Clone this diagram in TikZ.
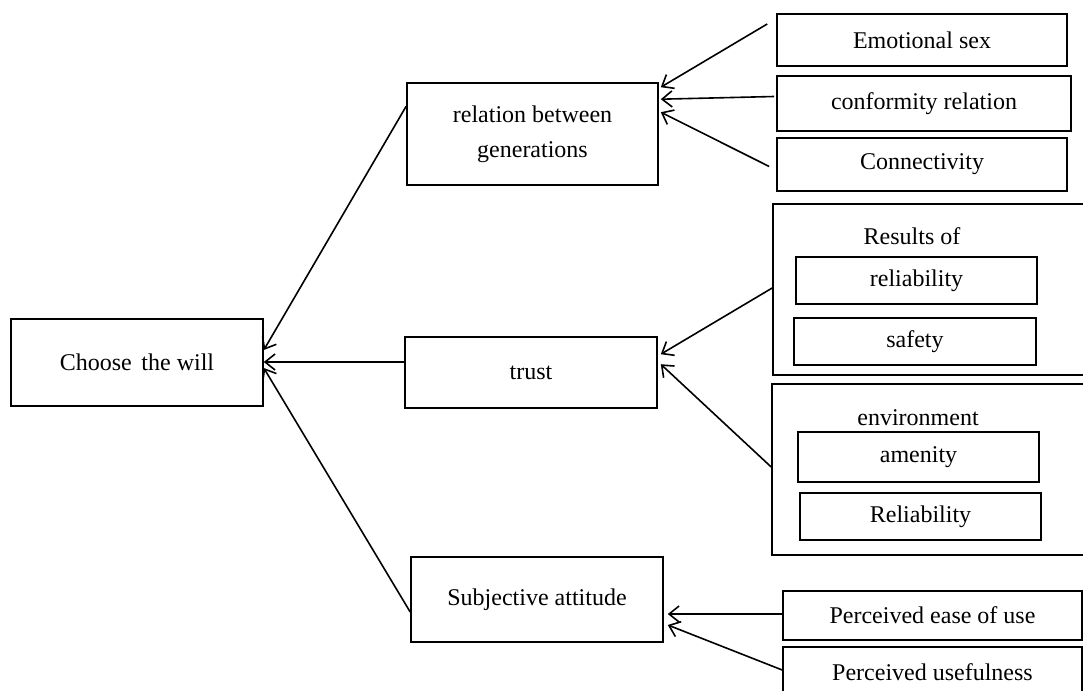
\documentclass[tikz,border=0pt]{standalone}
\usepackage{fontspec}
\setmainfont{Liberation Serif}
\usetikzlibrary{arrows.meta,calc}
\begin{document}
\begin{tikzpicture}[x=0.5pt,y=-0.5pt,
  every node/.style={font=\fontsize{12}{17.5}\selectfont},
  box/.style={draw=black,line width=0.8pt,rectangle,inner sep=0pt,align=center},
  sz/.style 2 args={minimum width=#1*0.5pt,minimum height=#2*0.5pt},
  lbl/.style={inner sep=0pt},
  conn/.style={draw=black,line width=0.8pt,-{Straight Barb[length=5pt,width=8pt,line width=0.8pt]}}]
\useasboundingbox (0,0) rectangle (1083,691);
\clip (0,0) rectangle (1083,691);
% main boxes
\node[box,sz={252}{87}] (choose) at (137,362.5) {Choose\hspace{0.4em}the will};
\node[box,sz={251}{102}] (rel) at (532.5,134) {relation between\\generations};
\node[box,sz={252}{71}] (trust) at (531,372.5) {trust};
\node[box,sz={252}{85}] (subj) at (537,599.5) {Subjective attitude};
% relation factors
\node[box,sz={290}{52}] (emo) at (922,40) {Emotional sex};
\node[box,sz={294}{55}] (conf) at (924,103.5) {conformity relation};
\node[box,sz={290}{53}] (conn) at (922,164.5) {Connectivity};
% trust factors
\node[box,sz={322}{171}] (res) at (934,289.5) {};
\node[lbl] (restxt) at (912,236) {Results of};
\node[box,sz={241}{47}] (rel1) at (916.5,280.5) {reliability};
\node[box,sz={242}{47}] (safe) at (915,341.5) {safety};
\node[box,sz={323}{171}] (env) at (933.5,469.5) {};
\node[lbl] (envtxt) at (918,418) {environment};
\node[box,sz={241}{50}] (amen) at (918.5,457) {amenity};
\node[box,sz={241}{47}] (rel2) at (920.5,516.5) {Reliability};
% attitude factors
\node[box,sz={299}{49}] (ease) at (932.5,615.5) {Perceived ease of use};
\node[box,sz={299}{50}] (useful) at (932.5,672) {Perceived usefulness};
% connectors
\draw[conn] ($(emo.west)+(-9,-16)$) -- ($(rel.north east)+(2,5)$);
\draw[conn] ($(conf.west)+(-2,-7)$) -- ($(rel.north east)+(2,17)$);
\draw[conn] ($(conn.west)+(-7,2)$) -- ($(rel.north east)+(2,30)$);
\draw[conn] ($(res.west)+(0,-1.5)$) -- ($(trust.north east)+(3,18)$);
\draw[conn] ($(env.west)+(0,-2.5)$) -- ($(trust.north east)+(3,28)$);
\draw[conn] ($(ease.west)+(0,-1.5)$) -- ($(subj.east)+(4,14.5)$);
\draw[conn] ($(useful.west)+(0,-2)$) -- ($(subj.east)+(4,25.5)$);
\draw[conn] ($(rel.north west)+(0,24)$) -- ($(choose.east)+(0,-12.5)$);
\draw[conn] ($(trust.west)+(0,-10.5)$) -- ($(choose.east)+(0,-0.5)$);
\draw[conn] ($(subj.west)+(0,12.5)$) -- ($(choose.east)+(0,5.5)$);
\end{tikzpicture}
\end{document}
